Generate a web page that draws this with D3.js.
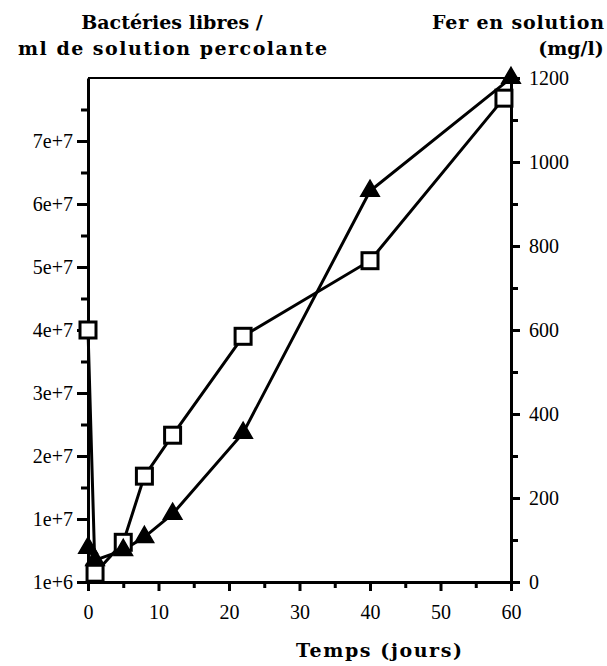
<!DOCTYPE html>
<html>
<head>
<meta charset="utf-8">
<script src="https://cdn.jsdelivr.net/npm/d3@7"></script>
<style>
  body { margin: 0; background: #fff; }
  svg { display: block; }
  text { fill: #000; }
</style>
</head>
<body>
<svg></svg>
<script>
const width = 607;
const height = 666;
const plotLeft = 88;
const plotRight = 511;
const plotTop = 78;
const plotBottom = 582;

const ironDays = [0, 1, 5, 8, 12, 22, 40, 60];
const ironValues = [81, 52, 76, 107, 162, 355, 931, 1200];
const bacteriaDays = [0, 1, 5, 8, 12, 22, 40, 59];
const bacteriaValues = [4.0e7, 1.4e6, 6.3e6, 1.68e7, 2.33e7, 3.9e7, 5.1e7, 7.68e7];

const xTickValues = [0, 10, 20, 30, 40, 50, 60];
const leftTickValues = [0, 1e7, 2e7, 3e7, 4e7, 5e7, 6e7, 7e7];
const leftTickLabels = ["1e+6", "1e+7", "2e+7", "3e+7", "4e+7", "5e+7", "6e+7", "7e+7"];
const rightTickValues = [0, 200, 400, 600, 800, 1000, 1200];

const labelFont = "'Liberation Serif', serif";
const titleFont = "'DejaVu Serif', serif";

const svg = d3.select("svg")
    .attr("width", width)
    .attr("height", height);

const x = d3.scaleLinear().domain([0, 60]).range([plotLeft, plotRight]);
const yLeft = d3.scaleLinear().domain([0, 8e7]).range([plotBottom, plotTop]);
const yRight = d3.scaleLinear().domain([0, 1200]).range([plotBottom, plotTop]);

function styleAxis(g, size) {
    g.select(".domain").attr("stroke-width", 3);
    g.selectAll(".tick line").attr("stroke-width", 3);
    g.selectAll(".tick text")
        .style("font-family", labelFont)
        .style("font-size", size + "px");
}

// minor ticks
svg.append("g")
    .attr("transform", `translate(0,${plotBottom})`)
    .call(d3.axisBottom(x).tickValues(d3.range(5, 60, 10)).tickSize(6).tickSizeOuter(0).tickFormat(""))
    .call(g => g.select(".domain").remove())
    .call(g => g.selectAll("line").attr("stroke-width", 3));

svg.append("g")
    .attr("transform", `translate(${plotLeft},0)`)
    .call(d3.axisLeft(yLeft).tickValues(d3.range(5e6, 8e7, 1e7)).tickSize(7).tickSizeOuter(0).tickFormat(""))
    .call(g => g.select(".domain").remove())
    .call(g => g.selectAll("line").attr("stroke-width", 3));

svg.append("g")
    .attr("transform", `translate(${plotRight},0)`)
    .call(d3.axisRight(yRight).tickValues(d3.range(100, 1200, 200)).tickSize(7).tickSizeOuter(0).tickFormat(""))
    .call(g => g.select(".domain").remove())
    .call(g => g.selectAll("line").attr("stroke-width", 3));

// main axes
svg.append("g")
    .attr("transform", `translate(0,${plotBottom})`)
    .call(d3.axisBottom(x).tickValues(xTickValues).tickSize(9).tickSizeOuter(0).tickPadding(14))
    .call(g => styleAxis(g, 20));

svg.append("g")
    .attr("transform", `translate(${plotLeft},0)`)
    .call(d3.axisLeft(yLeft).tickValues(leftTickValues).tickFormat((d, i) => leftTickLabels[i]).tickSize(11).tickSizeOuter(0).tickPadding(4))
    .call(g => styleAxis(g, 20));

svg.append("g")
    .attr("transform", `translate(${plotRight},0)`)
    .call(d3.axisRight(yRight).tickValues(rightTickValues).tickFormat(d3.format("d")).tickSize(9).tickSizeOuter(0).tickPadding(9))
    .call(g => styleAxis(g, 20));

// top frame line
svg.append("line")
    .attr("x1", plotLeft)
    .attr("x2", plotRight)
    .attr("y1", plotTop)
    .attr("y2", plotTop)
    .attr("stroke", "#000")
    .attr("stroke-width", 2);

// series
const bacteria = bacteriaDays.map((d, i) => ({ day: d, value: bacteriaValues[i] }));
const iron = ironDays.map((d, i) => ({ day: d, value: ironValues[i] }));

svg.append("path")
    .datum(bacteria)
    .attr("fill", "none")
    .attr("stroke", "#000")
    .attr("stroke-width", 3)
    .attr("d", d3.line().x(d => x(d.day)).y(d => yLeft(d.value)));

svg.append("path")
    .datum(iron)
    .attr("fill", "none")
    .attr("stroke", "#000")
    .attr("stroke-width", 3)
    .attr("d", d3.line().x(d => x(d.day)).y(d => yRight(d.value)));

const squareSize = 16;

svg.selectAll("rect.bacteria")
    .data(bacteria)
    .enter()
    .append("rect")
    .attr("class", "bacteria")
    .attr("x", d => x(d.day) - squareSize / 2)
    .attr("y", d => yLeft(d.value) - squareSize / 2)
    .attr("width", squareSize)
    .attr("height", squareSize)
    .attr("fill", "#fff")
    .attr("stroke", "#000")
    .attr("stroke-width", 3);

svg.selectAll("path.iron")
    .data(iron)
    .enter()
    .append("path")
    .attr("class", "iron")
    .attr("transform", d => `translate(${x(d.day)},${yRight(d.value)})`)
    .attr("d", d3.symbol(d3.symbolTriangle, 150))
    .attr("fill", "#000")
    .attr("stroke", "#000")
    .attr("stroke-width", 1.5);

// titles
const titles = svg.append("g")
    .style("font-family", titleFont)
    .style("font-weight", "bold")
    .style("font-size", "19px");

titles.append("text")
    .attr("x", 172)
    .attr("y", 29)
    .attr("text-anchor", "middle")
    .text("Bactéries libres /");

titles.append("text")
    .attr("x", 18)
    .attr("y", 55)
    .attr("textLength", 309)
    .attr("lengthAdjust", "spacing")
    .text("ml de solution percolante");

titles.append("text")
    .attr("x", 432)
    .attr("y", 29)
    .attr("textLength", 172)
    .attr("lengthAdjust", "spacing")
    .text("Fer en solution");

titles.append("text")
    .attr("x", 571)
    .attr("y", 55)
    .attr("text-anchor", "middle")
    .text("(mg/l)");

titles.append("text")
    .attr("x", 296)
    .attr("y", 657)
    .attr("textLength", 166)
    .attr("lengthAdjust", "spacing")
    .text("Temps (jours)");
</script>
</body>
</html>
